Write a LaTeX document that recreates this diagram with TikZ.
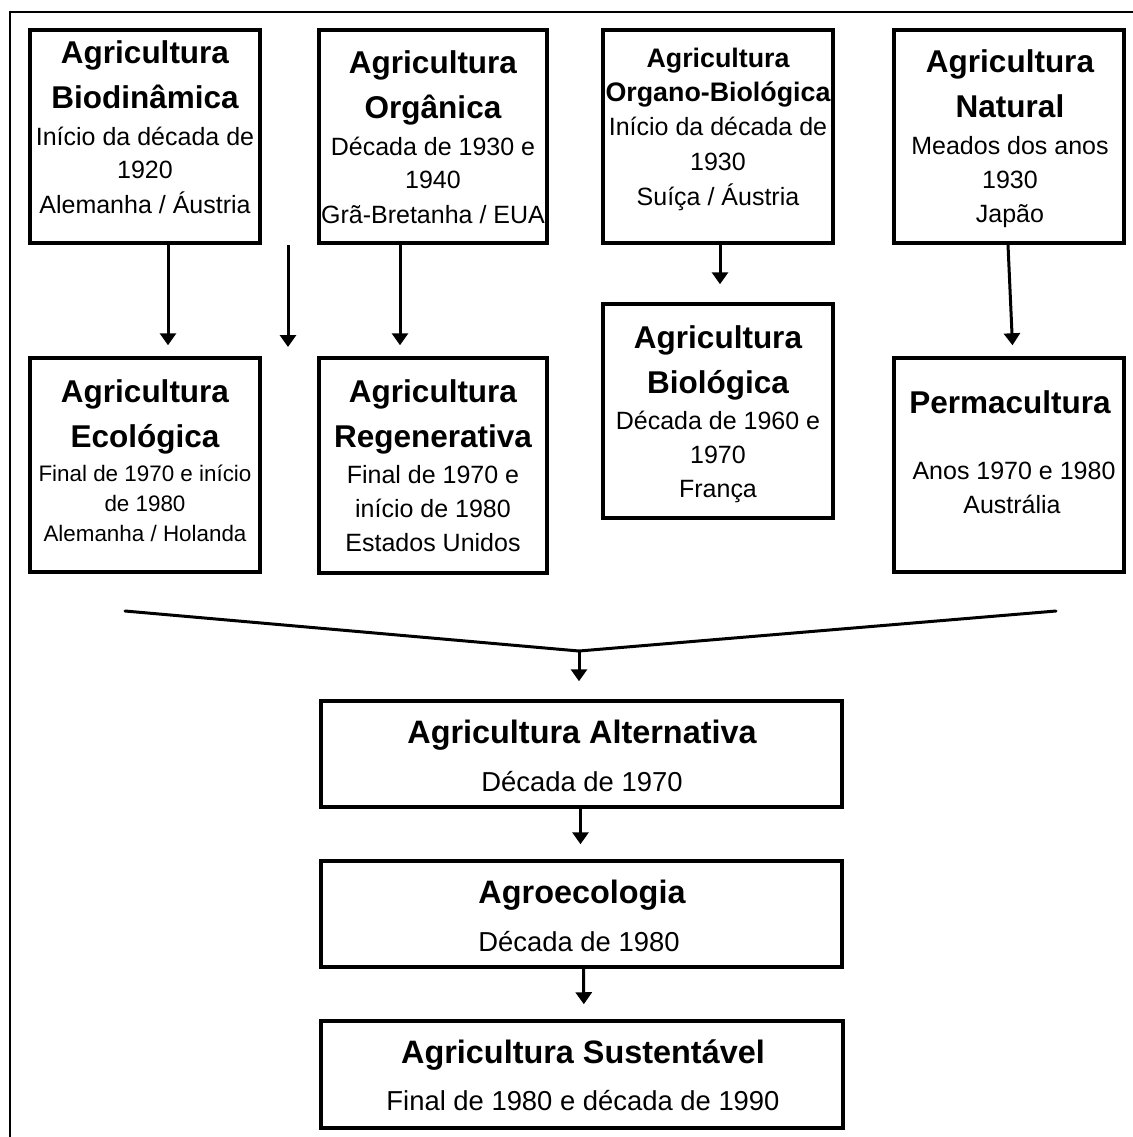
\documentclass[tikz,border=0pt]{standalone}
\usepackage{fontspec}
\setmainfont{Liberation Sans}
\usetikzlibrary{arrows.meta,fit}
\tikzset{
  box/.style={draw, line width=1.75pt, inner sep=0pt},
  ttl/.style={font=\fontsize{15.75}{18}\selectfont\bfseries, anchor=base, inner sep=0pt},
  ttlsm/.style={font=\fontsize{13.4}{16}\selectfont\bfseries, anchor=base, inner sep=0pt},
  ttlbig/.style={font=\fontsize{16.2}{19}\selectfont\bfseries, anchor=base, inner sep=0pt},
  txt/.style={font=\fontsize{12.5}{15}\selectfont, anchor=base, inner sep=0pt},
  txtsm/.style={font=\fontsize{11.2}{14}\selectfont, anchor=base, inner sep=0pt},
  txtbig/.style={font=\fontsize{13.7}{16}\selectfont, anchor=base, inner sep=0pt},
  arr/.style={line width=1.5pt, -{Triangle[width=8pt,length=6pt]}},
  conn/.style={line width=1.5pt, line cap=round},
  frame/.style={line width=1pt}
}
\begin{document}
\begin{tikzpicture}[x=0.5pt,y=-0.5pt]
\useasboundingbox (0,0) rectangle (1133,1137);
% outer frame (top and left only)
\draw[frame] (9.5,1137) -- (9.5,11.5) -- (1133,11.5);

% boxes
\node[box, fit={(30,30) (260,243)}] (A) {};
\node[box, fit={(319,30) (547,243)}] (B) {};
\node[box, fit={(603,30) (833,243)}] (C) {};
\node[box, fit={(894,30) (1124,243)}] (D) {};
\node[box, fit={(30,358) (260,572)}] (E) {};
\node[box, fit={(319,358) (547,573)}] (F) {};
\node[box, fit={(603,304) (833,518)}] (G) {};
\node[box, fit={(894,358) (1124,572)}] (H) {};
\node[box, fit={(321,701) (842,807)}] (I) {};
\node[box, fit={(321,861) (842,967)}] (J) {};
\node[box, fit={(321,1021) (843,1128)}] (K) {};

% texts A
\node[ttl] (tA1) at (145,63) {Agricultura};
\node[ttl] (tA2) at (145,108) {Biodinâmica};
\node[txt] (tA3) at (145,145) {Início da década de};
\node[txt] (tA4) at (145,178) {1920};
\node[txt] (tA5) at (145,213) {Alemanha / Áustria};
% B
\node[ttl] (tB1) at (433,73) {Agricultura};
\node[ttl] (tB2) at (433,118) {Orgânica};
\node[txt] (tB3) at (433,155) {Década de 1930 e};
\node[txt] (tB4) at (433,188) {1940};
\node[txt] (tB5) at (433,223) {Grã-Bretanha / EUA};
% C
\node[ttlsm] (tC1) at (718,67) {Agricultura};
\node[ttlsm] (tC2) at (718,101) {Organo-Biológica};
\node[txt] (tC3) at (718,135) {Início da década de};
\node[txt] (tC4) at (718,170) {1930};
\node[txt] (tC5) at (718,205) {Suíça / Áustria};
% D
\node[ttl] (tD1) at (1010,72) {Agricultura};
\node[ttl] (tD2) at (1010,117) {Natural};
\node[txt] (tD3) at (1010,154) {Meados dos anos};
\node[txt] (tD4) at (1010,188) {1930};
\node[txt] (tD5) at (1010,222) {Japão};
% E
\node[ttl] (tE1) at (145,402) {Agricultura};
\node[ttl] (tE2) at (145,447) {Ecológica};
\node[txtsm] (tE3) at (145,481) {Final de 1970 e início};
\node[txtsm] (tE4) at (145,511) {de 1980};
\node[txtsm] (tE5) at (145,541) {Alemanha / Holanda};
% F
\node[ttl] (tF1) at (433,402) {Agricultura};
\node[ttl] (tF2) at (433,447) {Regenerativa};
\node[txt] (tF3) at (433,483) {Final de 1970 e};
\node[txt] (tF4) at (433,517) {início de 1980};
\node[txt] (tF5) at (433,551) {Estados Unidos};
% G
\node[ttl] (tG1) at (718,348) {Agricultura};
\node[ttl] (tG2) at (718,393) {Biológica};
\node[txt] (tG3) at (718,429) {Década de 1960 e};
\node[txt] (tG4) at (718,463) {1970};
\node[txt] (tG5) at (718,497) {França};
% H
\node[ttl] (tH1) at (1010,413) {Permacultura};
\node[txt] (tH2) at (1014,479) {Anos 1970 e 1980};
\node[txt] (tH3) at (1012,513) {Austrália};
% I, J, K
\node[ttlbig] (tI1) at (582,743) {Agricultura Alternativa};
\node[txtbig] (tI2) at (582,791) {Década de 1970};
\node[ttlbig] (tJ1) at (582,903) {Agroecologia};
\node[txtbig] (tJ2) at (579,951) {Década de 1980};
\node[ttlbig] (tK1) at (583,1063) {Agricultura Sustentável};
\node[txtbig] (tK2) at (583,1110) {Final de 1980 e década de 1990};

% arrows row 1 -> row 2
\draw[arr, shorten >=5.5pt] ([xshift=11.5pt]A.south) -- ([xshift=11.5pt]E.north);
\coordinate (f1) at (288,245);
\coordinate (f2) at (288,358);
\draw[arr, shorten >=5.5pt] (f1) -- (f2);
\draw[arr, shorten >=5.5pt] ([xshift=-16.5pt]B.south) -- ([xshift=-16.5pt]F.north);
\draw[arr, shorten >=9pt] ([xshift=1pt]C.south) -- ([xshift=1pt]G.north);
\draw[arr, shorten >=5.5pt] ([xshift=-0.5pt]D.south) -- ([xshift=2pt]H.north);

% converging lines
\coordinate (L1) at (125,611);
\coordinate (R1) at (1056,611);
\coordinate (M) at (579,651);
\draw[conn] (L1) -- (M) -- (R1);
\draw[arr, shorten >=9pt] (M) -- (M |- I.north);

% vertical chain
\draw[arr, shorten >=7.5pt] ([xshift=-0.5pt]I.south) -- ([xshift=-0.5pt]J.north);
\draw[arr, shorten >=7.5pt] ([xshift=1pt]J.south) -- ([xshift=1pt]K.north);
\end{tikzpicture}
\end{document}
